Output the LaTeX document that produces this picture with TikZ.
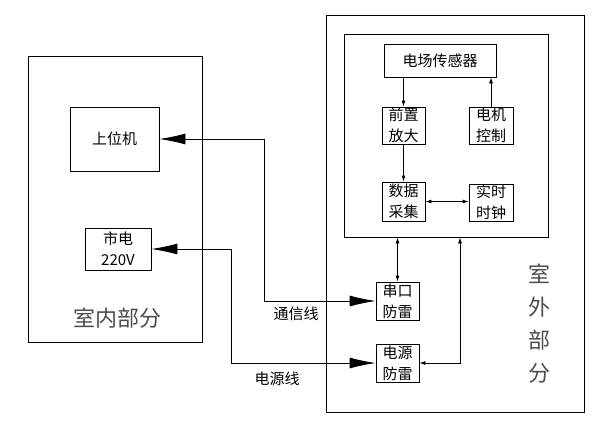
\documentclass[tikz,border=0pt]{standalone}
\usepackage{fontspec}
\setmainfont{Noto Sans CJK SC}
\usepackage{tikz}
\usetikzlibrary{arrows.meta}
\tikzset{
  blk/.style={draw, thick, inner sep=0pt, align=center, font=\fontsize{15}{21}\selectfont},
  frame/.style={draw, thick, inner sep=0pt},
  wire/.style={font=\fontsize{15}{18}\selectfont},
  sm/.style={-{Latex[length=6pt,width=4pt]}},
  smboth/.style={{Latex[length=6pt,width=4pt]}-{Latex[length=6pt,width=4pt]}},
  bigboth/.style={{Latex[length=26pt,width=11pt]}-{Latex[length=26pt,width=11pt]}},
  side/.style={font=\fontsize{22}{30}\selectfont, text=black!70}
}

\begin{document}
\begin{tikzpicture}[x=1pt, y=-1pt, line width=0.8pt]
\useasboundingbox (0,0) rectangle (601,428);

% the two halves
\node[frame, minimum width=174pt, minimum height=286pt] (indoor) at (115,199) {};
\node[frame, minimum width=258pt, minimum height=397pt] (outdoor) at (455,213.5) {};
\node[frame, minimum width=204pt, minimum height=203pt] (unit) at (446,135.5) {};

\node[side] (inlabel) at (117,318) {室内部分};
\node[side, align=center, font=\fontsize{22}{33}\selectfont] (outlabel) at (539,324) {室\\外\\部\\分};

\begin{scope}[every node/.style={blk}]
  \node[minimum width=89pt, minimum height=64pt] (host) at (114.5,139) {上位机};
  \node[minimum width=66pt, minimum height=42pt] (mains) at (118,249) {市电\\220V};
  \node[minimum width=112pt, minimum height=33pt] (sensor) at (440,60.5) {电场传感器};
  \node[minimum width=43pt, minimum height=37pt] (preamp) at (403.5,125.5) {前置\\放大};
  \node[minimum width=44pt, minimum height=37pt] (motor) at (491,125.5) {电机\\控制};
  \node[minimum width=43pt, minimum height=39pt] (daq) at (403.5,201.5) {数据\\采集};
  \node[minimum width=44pt, minimum height=37pt] (clock) at (491,202.5) {实时\\时钟};
  \node[minimum width=43pt, minimum height=38pt] (serial) at (397.5,301) {串口\\防雷};
  \node[minimum width=43pt, minimum height=38pt] (power) at (397.5,363) {电源\\防雷};
\end{scope}

\coordinate (comm) at (264,0);
\coordinate (pwr) at (231,0);
\coordinate (ret) at (460,0);

% inside the outdoor unit
\draw[sm] (sensor.south -| preamp) -- (preamp.north);
\draw[sm] (preamp.south) -- (daq.north);
\draw[sm] (motor.north) -- (sensor.south -| motor);
\draw[smboth] (daq.east) -- (daq.east -| clock.west);
\draw[smboth] (unit.south -| serial) -- (serial.north);
\draw[smboth] (power.east) -| (unit.south -| ret);

% cables
\draw[bigboth] (host.east) -- (host.east -| comm) |- (serial.west);
\draw[bigboth] (mains.east) -- (mains.east -| pwr) |- (power.west);
\node[wire] (commlabel) at (296,314) {通信线};
\node[wire] (pwrlabel) at (277,379) {电源线};
\end{tikzpicture}
\end{document}
